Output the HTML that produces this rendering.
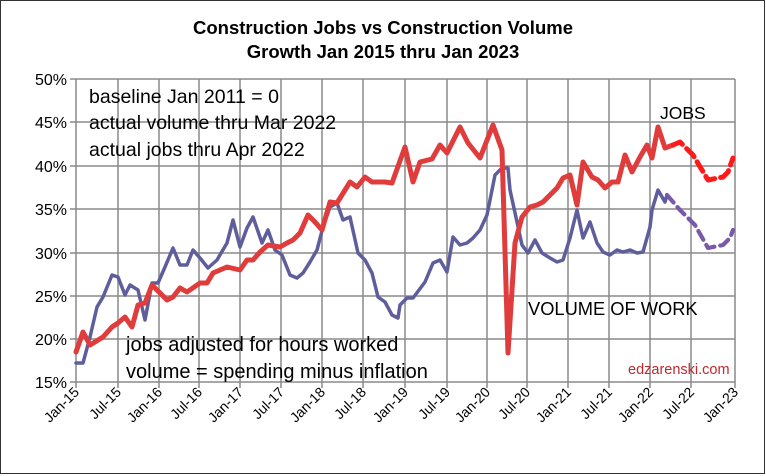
<!DOCTYPE html>
<html><head><meta charset="utf-8"><style>
html,body{margin:0;padding:0;background:#fff}
svg{display:block}
text{font-family:"Liberation Sans",sans-serif}
</style></head><body>
<svg width="766" height="476" viewBox="0 0 766 476" xmlns="http://www.w3.org/2000/svg">
<rect x="0.5" y="0.5" width="764" height="473" fill="#fff" stroke="#333" stroke-width="1"/>
<text x="383" y="34" text-anchor="middle" font-size="18.5" font-weight="bold">Construction Jobs vs Construction Volume</text>
<text x="383" y="58" text-anchor="middle" font-size="18.5" font-weight="bold">Growth Jan 2015 thru Jan 2023</text>
<g stroke="#8a8a8a" stroke-width="1.5">
<line x1="70" y1="79" x2="735" y2="79"/><line x1="70" y1="122" x2="735" y2="122"/>
<line x1="70" y1="166" x2="735" y2="166"/><line x1="70" y1="209" x2="735" y2="209"/>
<line x1="70" y1="253" x2="735" y2="253"/><line x1="70" y1="296" x2="735" y2="296"/>
<line x1="70" y1="339" x2="735" y2="339"/><line x1="70" y1="382" x2="735" y2="382"/>
<line x1="76" y1="79" x2="76" y2="388"/><line x1="118" y1="79" x2="118" y2="388"/>
<line x1="159" y1="79" x2="159" y2="388"/><line x1="199" y1="79" x2="199" y2="388"/>
<line x1="240" y1="79" x2="240" y2="388"/><line x1="281" y1="79" x2="281" y2="388"/>
<line x1="322" y1="79" x2="322" y2="388"/><line x1="363" y1="79" x2="363" y2="388"/>
<line x1="405" y1="79" x2="405" y2="388"/><line x1="447" y1="79" x2="447" y2="388"/>
<line x1="487" y1="79" x2="487" y2="388"/><line x1="527" y1="79" x2="527" y2="388"/>
<line x1="568" y1="79" x2="568" y2="388"/><line x1="609" y1="79" x2="609" y2="388"/>
<line x1="650" y1="79" x2="650" y2="388"/><line x1="691" y1="79" x2="691" y2="388"/>
<line x1="735" y1="79" x2="735" y2="388"/>
</g>
<g font-size="16" text-anchor="end">
<text x="67" y="85">50%</text><text x="67" y="128">45%</text><text x="67" y="172">40%</text>
<text x="67" y="215">35%</text><text x="67" y="259">30%</text><text x="67" y="302">25%</text>
<text x="67" y="345">20%</text><text x="67" y="388">15%</text>
</g>
<g font-size="14" text-anchor="end">
<text transform="translate(80,393) rotate(-45)">Jan-15</text>
<text transform="translate(122,393) rotate(-45)">Jul-15</text>
<text transform="translate(163,393) rotate(-45)">Jan-16</text>
<text transform="translate(203,393) rotate(-45)">Jul-16</text>
<text transform="translate(244,393) rotate(-45)">Jan-17</text>
<text transform="translate(285,393) rotate(-45)">Jul-17</text>
<text transform="translate(326,393) rotate(-45)">Jan-18</text>
<text transform="translate(367,393) rotate(-45)">Jul-18</text>
<text transform="translate(409,393) rotate(-45)">Jan-19</text>
<text transform="translate(451,393) rotate(-45)">Jul-19</text>
<text transform="translate(491,393) rotate(-45)">Jan-20</text>
<text transform="translate(531,393) rotate(-45)">Jul-20</text>
<text transform="translate(572,393) rotate(-45)">Jan-21</text>
<text transform="translate(613,393) rotate(-45)">Jul-21</text>
<text transform="translate(654,393) rotate(-45)">Jan-22</text>
<text transform="translate(695,393) rotate(-45)">Jul-22</text>
<text transform="translate(739,393) rotate(-45)">Jan-23</text>
</g>
<g fill="none" stroke-linejoin="round" stroke-linecap="round">
<polyline stroke="#5e5e9c" stroke-width="3.5" points="76,363 83,363 90,337 97,307 103,297 112,275 118,277 125,295 130,285 138,290 145,320 152,283 158,283 165,267 173,248 180,265 187,265 193,250 200,258 208,268 217,260 227,243 233,220 240,247 247,228 253,217 262,243 268,230 275,250 282,255 290,275 297,278 303,273 310,262 317,250 323,227 330,207 337,203 343,220 350,217 358,253 365,260 372,273 378,297 385,302 392,315 398,318 400,305 407,298 413,298 425,282 433,263 440,260 447,272 453,237 460,245 467,243 473,238 480,230 487,215 495,175 502,168 508,168 510,190 517,222 522,245 528,253 535,240 542,253 550,258 557,262 563,260 570,238 577,210 583,238 590,222 597,243 603,252 610,255 617,250 623,252 630,250 637,253 643,252 650,227 652,210 658,190 665,202 667,195"/>
<polyline stroke="#7a5aa8" stroke-width="4.2" stroke-dasharray="10,6" points="667,195 680,210 695,225 708,248 723,245 730,238 733,230"/>
<polyline stroke="#e03c3c" stroke-width="5" points="76,352 83,332 90,345 103,337 112,327 118,323 125,317 132,327 138,305 145,303 152,285 160,293 167,300 173,297 180,288 187,292 200,283 207,283 213,273 227,267 240,270 247,260 253,260 260,252 268,245 280,247 287,243 293,240 300,233 308,215 315,222 322,230 330,202 337,203 350,182 357,187 365,177 372,182 385,182 392,183 405,147 413,182 420,162 432,159 440,145 447,153 460,127 468,143 480,158 493,125 502,150 508,353 515,243 522,217 530,207 537,205 543,202 550,195 557,188 563,178 570,175 577,205 583,162 592,177 598,180 605,188 612,182 618,182 625,155 632,172 640,157 647,145 652,158 658,127 665,148 673,145"/>
<polyline stroke="#ff1a1a" stroke-width="5" stroke-dasharray="11,6" points="673,145 680,142 693,155 708,180 723,177 728,172 733,158"/>
</g>
<g font-size="19.5">
<text x="89" y="103">baseline Jan 2011 = 0</text>
<text x="89" y="129">actual volume thru Mar 2022</text>
<text x="89" y="156">actual jobs thru Apr 2022</text>
</g>
<g font-size="20">
<text x="126" y="351">jobs adjusted for hours worked</text>
<text x="126" y="378">volume = spending minus inflation</text>
</g>
<text x="528" y="315" font-size="18.3">VOLUME OF WORK</text>
<text x="660" y="119" font-size="17.5">JOBS</text>
<text x="628" y="374" font-size="14.5" fill="#c0282e">edzarenski.com</text>
</svg>
</body></html>
